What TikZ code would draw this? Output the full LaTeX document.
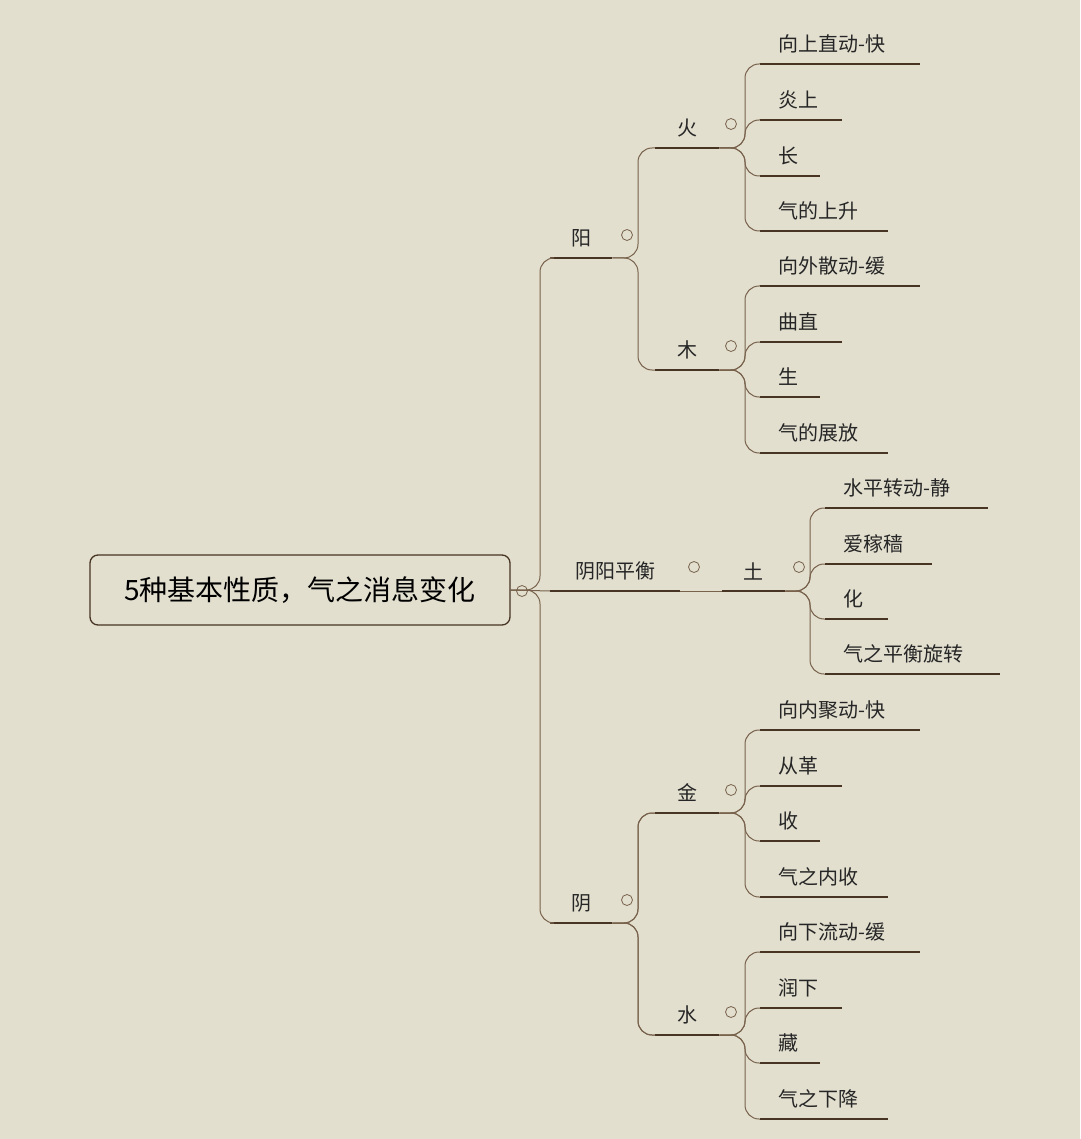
\documentclass[tikz,border=0pt]{standalone}
\usepackage{fontspec}
\setmainfont{Noto Sans CJK SC}
\usetikzlibrary{calc}
\definecolor{paper}{RGB}{226,223,207}
\definecolor{inkc}{RGB}{72,52,34}
\definecolor{twigc}{RGB}{120,98,76}
\tikzset{
  leaf/.style={anchor=south west, inner xsep=18pt, inner ysep=11pt, text=black!85,
    font=\fontsize{20}{24}\selectfont},
  bar/.style={inkc, line width=2.6pt},
  twig/.style={twigc, line width=1pt, rounded corners=14pt},
  fold/.style={circle, draw=twigc, line width=0.8pt, minimum size=11pt, inner sep=0pt}
}
\newcommand{\stem}[3]{% parent, x of trunk, child
  \draw[twig] (#1.south east) -| ($(#2,0)!(#3.south west)!(#2,10)$) -- (#3.south west);}
\begin{document}
\begin{tikzpicture}[x=1pt,y=-1pt]
  \fill[paper] (0,0) rectangle (1080,1139);
  \useasboundingbox (0,0) rectangle (1080,1139);

  % root
  \node[draw=inkc, line width=1.3pt, rounded corners=8pt, minimum width=420pt, minimum height=70pt,
        font=\fontsize{28}{32}\selectfont] (root) at (300,590) {5种基本性质，气之消息变化};
  \node[fold] at (522,591) {};
  \coordinate (rootend) at (510,590);

  % main branches
  \node[leaf, minimum width=62pt, inner xsep=20pt] (yang) at (550,258) {阳};
  \node[leaf, minimum width=130pt, inner xsep=20pt] (ping) at (550,591) {阴阳平衡};
  \node[leaf, minimum width=62pt, inner xsep=20pt] (yin) at (550,923) {阴};
  \foreach \n in {yang,ping,yin} \draw[bar] (\n.south west) -- (\n.south east);
  \draw[twig] (rootend) -| (540,258) -- (yang.south west);
  \draw[twig] (rootend) -| (540,923) -- (yin.south west);
  \draw[twig] (rootend) -- (ping.south west);
  \node[fold] at (627,235) {};
  \node[fold] at (627,900) {};
  \node[fold] at (694,567) {};

  % elements
  \node[leaf, minimum width=62pt, inner xsep=22pt] (huo) at (655,148) {火};
  \node[leaf, minimum width=62pt, inner xsep=22pt] (mu) at (655,370) {木};
  \node[leaf, minimum width=63pt, inner xsep=20pt] (tu) at (722,591) {土};
  \node[leaf, minimum width=62pt, inner xsep=22pt] (jin) at (655,813) {金};
  \node[leaf, minimum width=62pt, inner xsep=22pt] (shui) at (655,1035) {水};
  \foreach \n in {huo,mu,tu,jin,shui} \draw[bar] (\n.south west) -- (\n.south east);
  \foreach \n in {huo,mu} \stem{yang}{638}{\n}
  \foreach \n in {jin,shui} \stem{yin}{638}{\n}
  \draw[twig] (ping.south east) -- (tu.south west);
  \foreach \y in {124,346,790,1012} \node[fold] at (731,\y) {};
  \node[fold] at (799,567) {};

  % leaves
  \foreach \p/\x/\y/\w/\t in {
      huo/760/64/160/向上直动-快, huo/760/120/82/炎上, huo/760/176/60/长, huo/760/231/128/气的上升,
      mu/760/286/160/向外散动-缓, mu/760/342/82/曲直, mu/760/397/60/生, mu/760/453/128/气的展放,
      tu/825/508/163/水平转动-静, tu/825/564/107/爱稼穑, tu/825/619/63/化, tu/825/674/175/气之平衡旋转,
      jin/760/730/160/向内聚动-快, jin/760/786/82/从革, jin/760/841/60/收, jin/760/897/128/气之内收,
      shui/760/952/160/向下流动-缓, shui/760/1008/82/润下, shui/760/1063/60/藏, shui/760/1119/128/气之下降} {
    \node[leaf] (lf) at (\x,\y) {\t};
    \draw[bar] (lf.south west) -- ++(\w,0);
    \pgfmathsetmacro{\tx}{\x-15}
    \stem{\p}{\tx}{lf}
  }
\end{tikzpicture}
\end{document}
